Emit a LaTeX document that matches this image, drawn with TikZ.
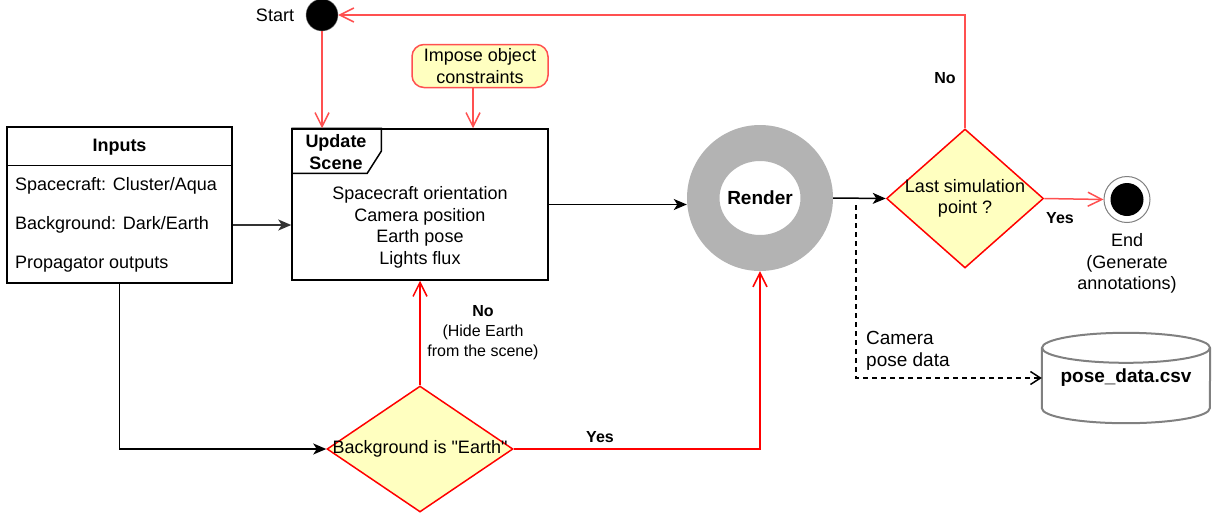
\documentclass[tikz,border=0pt]{standalone}
\usepackage{fontspec}
\setmainfont{Liberation Sans}[Ligatures=TeXOff]
\usetikzlibrary{arrows.meta,shapes.geometric}
\definecolor{lred}{RGB}{255,80,80}
\definecolor{cyellow}{RGB}{255,255,192}
\definecolor{ringgray}{RGB}{179,179,179}
\definecolor{dgray}{RGB}{51,51,51}
\newcommand{\bodyfont}{\fontsize{18}{21.5}\selectfont}
\newcommand{\labelfont}{\fontsize{16}{20}\selectfont}
\newcommand{\bigfont}{\fontsize{19}{22}\selectfont}
\newcommand{\zbox}[1]{\makebox[0pt]{\begin{tabular}{@{}c@{}}#1\end{tabular}}}
\begin{document}
\begin{tikzpicture}[x=1pt,y=-1pt,
  every node/.style={font=\bodyfont},
  box/.style={draw,line width=1.5pt,inner sep=0},
  softbox/.style={draw=lred,fill=cyellow,line width=1.5pt,rounded corners=12pt,
    minimum width=136pt,minimum height=43pt,inner sep=0,align=center},
  decision/.style={diamond,draw=red,fill=cyellow,line width=1.5pt,inner sep=0},
  redarrow/.style={draw=#1,line width=1.5pt,-{Straight Barb[length=14pt,width=14pt]}},
  redarrow/.default=lred,
  blackarrow/.style={draw=black,line width=1.5pt,-{Stealth[length=13pt,width=11pt,inset=3.5pt]}},
  grayarrow/.style={draw=dgray,line width=1.5pt,-{Stealth[length=13pt,width=11pt,inset=3.5pt]}},
  dasharrow/.style={draw=black,line width=1.5pt,dash pattern=on 5pt off 4pt,
    -{Straight Barb[length=10pt,width=13pt]}},
  cylline/.style={draw=gray,line width=2pt}]
\useasboundingbox (0,0) rectangle (1214,515);
\draw (322,15) node[circle,fill=black,draw=gray,minimum size=32pt,inner sep=0] (start) {};
\draw (275,15) node (starttext) {Start};
\draw (480,66) node[softbox] (impose) {Impose object\\constraints};
\draw (119.5,205) node[box,minimum width=225pt,minimum height=156pt] (inputs) {};
\draw[line width=1.5pt] ([yshift=-39pt]inputs.north west) -- ([yshift=-39pt]inputs.north east);
\draw (119.5,147) node[font=\bodyfont\bfseries] (inputshead) {Inputs};
\draw (15,186) node[anchor=west,inner sep=0] (craft) {Spacecraft: Cluster/Aqua};
\draw (15,225) node[anchor=west,inner sep=0] (backgr) {Background: Dark/Earth};
\draw (15,264) node[anchor=west,inner sep=0] (prop) {Propagator outputs};
\draw (420,204.5) node[box,minimum width=256pt,minimum height=151pt] (update) {};
\draw[line width=1.5pt] (update.north west) -- ++(90,0) -- ++(0,23) -- ++(-14,22) -- ++(-76,0);
\draw (336,152) node[align=center,font=\bodyfont\bfseries] (updatehead) {Update\\Scene};
\draw (420,227.5) node[align=center] (updatebody) {Spacecraft orientation\\Camera position\\Earth pose\\Lights flux};
\fill[ringgray,even odd rule] (760,198) circle[radius=73] (760,198) ellipse[x radius=40.5,y radius=37];
\draw (760,198) node[circle,minimum size=146pt,inner sep=0,font=\bigfont\bfseries] (render) {Render};
\draw (420,449) node[decision,minimum width=186pt,minimum height=126pt] (bgtest) {\zbox{Background is "Earth"}};
\draw (965,198.5) node[decision,minimum width=157pt,minimum height=139pt] (last) {\zbox{Last simulation\\point ?}};
\draw (1127,199.5) node[circle,draw=gray,fill=white,line width=1pt,minimum size=46pt,inner sep=0] (end) {};
\fill (end.center) circle[radius=16.5];
\draw (1127,263.5) node[align=center] (endtext) {End\\(Generate\\annotations)};
\draw (1126,378) node[minimum width=168pt,minimum height=90pt,inner sep=0,font=\bigfont\bfseries] (csv) {pose\_data.csv};
\draw[cylline] ([yshift=-15pt]csv.north west) -- ([yshift=15pt]csv.south west)
  arc[start angle=180,end angle=0,x radius=84,y radius=15] -- ([yshift=-15pt]csv.north east);
\draw[cylline] ([yshift=-15pt]csv.north) ellipse[x radius=84,y radius=15];
\draw (945,78) node[font=\labelfont\bfseries] (nolast) {No};
\draw (1060,218) node[font=\labelfont\bfseries] (yeslast) {Yes};
\draw (600,437) node[font=\labelfont\bfseries] (yesbg) {Yes};
\draw (483,333) node[align=center,font=\labelfont] (nobg) {\textbf{No}\\(Hide Earth\\from the scene)};
\draw (866,350.5) node[anchor=west,align=left,inner sep=0,font=\bigfont] (camtext) {Camera\\pose data};
\draw[redarrow] (start) -- (start |- update.north);
\draw[redarrow] ([xshift=-7pt]impose.south) -- ([xshift=-7pt]impose.south |- update.north);
\draw[grayarrow] (backgr -| inputs.east) -- (backgr -| update.west);
\draw[blackarrow] (inputs.south) |- (bgtest.west);
\draw[redarrow=red] (bgtest.north) -- (update.south);
\draw[redarrow=red] (bgtest.east) -| (render.south);
\draw[blackarrow] (update.east) -- (update.east -| render.west);
\draw[blackarrow] (render.east) -- (last.west);
\coordinate (tap) at ([xshift=23pt,yshift=-7pt]render.east);
\draw[dasharrow] (tap) |- (csv.west);
\draw[redarrow] (last.east) -- (end.west);
\draw[redarrow] (last.north) |- (start.east);
\end{tikzpicture}
\end{document}
